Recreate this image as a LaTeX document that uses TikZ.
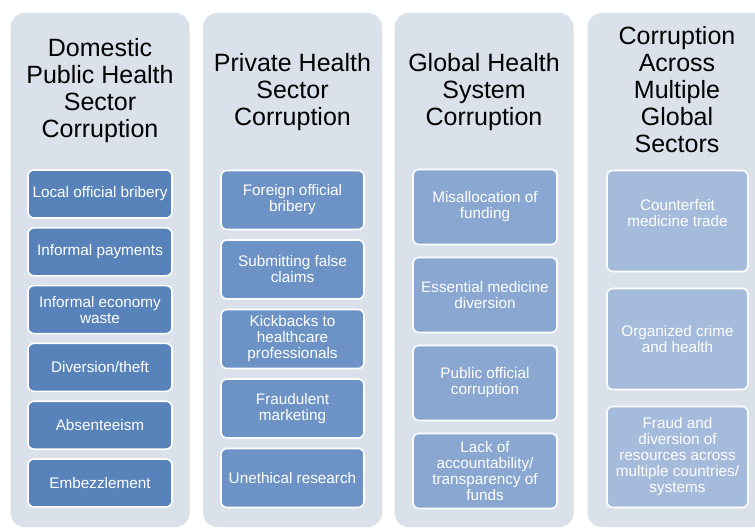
\documentclass[tikz,border=0pt]{standalone}
\usepackage{fontspec}
\setmainfont{Liberation Sans}
\definecolor{panelbg}{HTML}{DBE1EB}
\definecolor{tierA}{HTML}{5883BA}
\definecolor{tierB}{HTML}{6D93C6}
\definecolor{tierC}{HTML}{89A7D1}
\definecolor{tierD}{HTML}{A5BBDC}
\tikzset{
  panel/.style={fill=panelbg,rounded corners=14pt,minimum width=179pt,minimum height=514pt},
  heading/.style={align=center,font=\fontsize{25}{27}\selectfont,text=black},
  item/.style={draw=white,line width=1.6pt,rounded corners=6pt,align=center,
               text=white,font=\fontsize{15.3}{16}\selectfont}
}
\begin{document}
\begin{tikzpicture}[x=1pt,y=-1pt]
\useasboundingbox (0,0) rectangle (755,528);
\clip (0,0) rectangle (755,528);

\begin{scope}[every node/.style={panel}]
    \node (P1) at (100,270) {};
    \node (P2) at (292.5,270) {};
    \node (P3) at (484,270) {};
    \node (P4) at (677,270) {};
\end{scope}

\begin{scope}[every node/.style={heading}]
    \node (H1) at (100,91) {Domestic\\Public Health\\Sector\\Corruption};
    \node (H2) at (292.5,92) {Private Health\\Sector\\Corruption};
    \node (H3) at (484,92) {Global Health\\System\\Corruption};
    \node (H4) at (677,90) {Corruption\\Across\\Multiple\\Global\\Sectors};
\end{scope}

\begin{scope}[every node/.style={item,fill=tierA,minimum width=144pt,minimum height=48pt}]
    \node (a1) at (100,194) {Local official bribery};
    \node (a2) at (100,251.8) {Informal payments};
    \node (a3) at (100,309.6) {Informal economy\\waste};
    \node (a4) at (100,367.4) {Diversion/theft};
    \node (a5) at (100,425.2) {Absenteeism};
    \node (a6) at (100,483) {Embezzlement};
\end{scope}

\begin{scope}[every node/.style={item,fill=tierB,minimum width=143pt,minimum height=59pt}]
    \node (b1) at (292.5,200) {Foreign official\\bribery};
    \node (b2) at (292.5,269.5) {Submitting false\\claims};
    \node (b3) at (292.5,339) {Kickbacks to\\healthcare\\professionals};
    \node (b4) at (292.5,408.5) {Fraudulent\\marketing};
    \node (b5) at (292.5,478) {Unethical research};
\end{scope}

\begin{scope}[every node/.style={item,fill=tierC,minimum width=144pt,minimum height=75pt}]
    \node (c1) at (485,207) {Misallocation of\\funding};
    \node (c2) at (485,295) {Essential medicine\\diversion};
    \node (c3) at (485,383) {Public official\\corruption};
    \node (c4) at (485,471) {Lack of\\accountability/\\transparency of\\funds};
\end{scope}

\begin{scope}[every node/.style={item,fill=tierD,minimum width=141pt,minimum height=101pt}]
    \node (d1) at (677.5,221) {Counterfeit\\medicine trade\\[0pt]};
    \node (d2) at (677.5,339) {Organized crime\\and health};
    \node (d3) at (677.5,457) {Fraud and\\diversion of\\resources across\\multiple countries/\\systems};
\end{scope}
\end{tikzpicture}
\end{document}
